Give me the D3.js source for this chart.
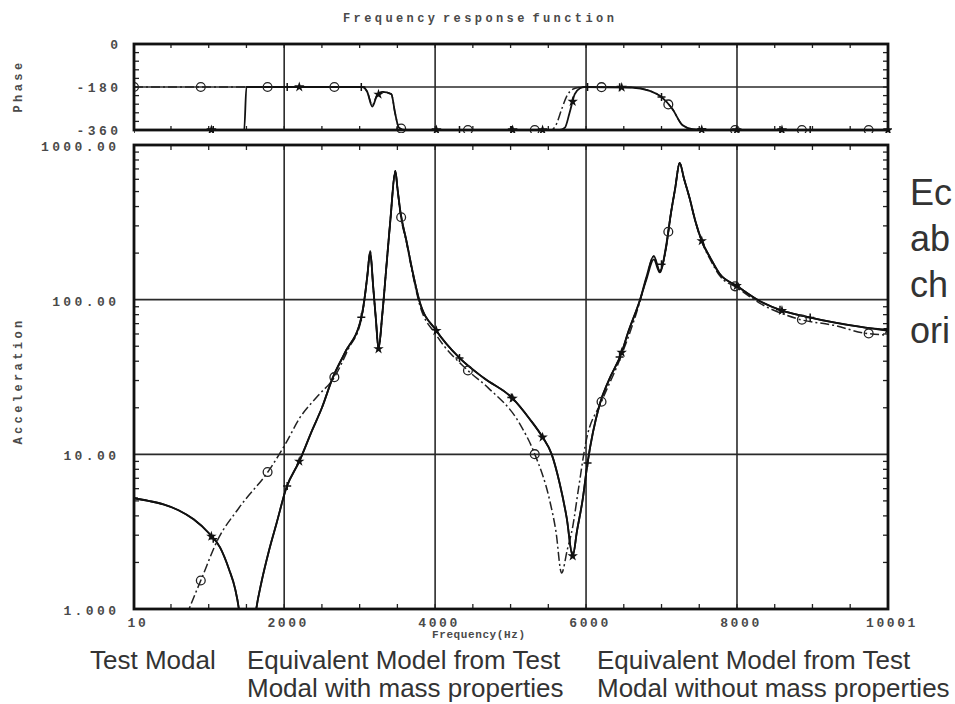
<!DOCTYPE html>
<html>
<head>
<meta charset="utf-8">
<script src="https://cdn.jsdelivr.net/npm/d3@7"></script>
<style>
  body { margin: 0; background: #fff; }
  svg { display: block; }
  .mono { font-family: "Liberation Mono", "DejaVu Sans Mono", monospace; fill: #4a4a4a; font-weight: bold; }
  .sans { font-family: "Liberation Sans", Arial, sans-serif; fill: #333; }
</style>
</head>
<body>
<svg id="chart"></svg>
<script>
// magnitude, test modal (solid, + markers) and model with mass properties (solid, * markers)
const TEST_FREQ = [10, 200, 400, 600, 800, 1000, 1150, 1270, 1350, 1400, 1450, 1500, 1560, 1630, 1700, 1800, 1900, 2030, 2200, 2370, 2500, 2640, 2800, 3020, 3060, 3100, 3140, 3180, 3215, 3250, 3300, 3355, 3410, 3473, 3500, 3540, 3620, 3700, 3792, 4017, 4323, 4650, 5027, 5250, 5424, 5545, 5650, 5743, 5823, 5880, 5955, 6020, 6180, 6300, 6472, 6550, 6710, 6800, 6897, 6977, 7060, 7120, 7180, 7240, 7300, 7370, 7450, 7533, 7650, 7770, 7996, 8300, 8596, 8900, 9300, 9700, 10001];
const TEST_ACC = [5.2, 5.0, 4.75, 4.35, 3.8, 3.1, 2.5, 1.8, 1.35, 1.0, 0.6, 0.3, 0.5, 1.0, 1.5, 2.4, 3.6, 6.1, 9.0, 14.3, 20, 31, 45, 76, 98, 140, 207, 120, 75, 48, 80, 165, 340, 680, 530, 370, 240, 153, 98, 63, 42, 31, 23, 17, 12.9, 10, 6.5, 3.9, 2.2, 3.2, 5.1, 8.8, 21, 30, 45.5, 60, 98, 140, 192, 154, 216, 350, 520, 765, 600, 457, 320, 240, 185, 147, 123, 98, 85, 78, 71, 66, 63];
const MASS_ACC = [5.2, 5.0, 4.75, 4.35, 3.8, 3.1, 2.5, 1.8, 1.35, 1.0, 0.6, 0.3, 0.5, 1.0, 1.5, 2.4, 3.6, 6.1, 9.0, 14.3, 20, 31, 45, 76, 98, 140, 200, 120, 75, 48, 80, 165, 340, 680, 530, 370, 240, 153, 98, 63, 42, 31, 23, 17, 12.9, 10, 6.5, 3.9, 2.2, 3.2, 5.1, 8.8, 21, 30, 45.5, 60, 98, 135, 182, 150, 222, 350, 520, 765, 600, 457, 320, 240, 185, 147, 123, 98, 85, 78, 71, 66, 64];

// magnitude, model without mass properties (dash-dot, circles)
const NOMASS_FREQ = [300, 600, 740, 912, 1110, 1400, 1800, 2030, 2200, 2450, 2663, 2850, 3020, 3060, 3100, 3140, 3180, 3215, 3250, 3300, 3355, 3410, 3473, 3500, 3540, 3620, 3700, 3792, 4017, 4430, 4700, 5120, 5318, 5517, 5600, 5676, 5750, 5823, 5900, 5995, 6207, 6472, 6710, 6800, 6897, 6977, 7060, 7120, 7180, 7240, 7300, 7370, 7450, 7533, 7650, 7770, 7996, 8300, 8810, 9300, 9670, 10001];
const NOMASS_ACC = [0.2, 0.65, 1.0, 1.6, 2.74, 4.5, 7.9, 12, 17, 24, 31.4, 48, 74, 96, 140, 205, 120, 75, 49, 80, 165, 340, 680, 530, 360, 235, 148, 94, 59, 35, 27, 15.8, 10.1, 5.06, 3.2, 1.71, 2.4, 3.4, 6, 11.8, 22, 44, 96, 138, 190, 152, 216, 350, 520, 765, 600, 457, 318, 238, 180, 143, 120, 95, 75, 68, 61, 59];

// phase
const PH_TEST_FREQ = [10, 1470, 1500, 3035, 3100, 3168, 3230, 3300, 3420, 3470, 3520, 3600, 5650, 5720, 5780, 5850, 5920, 5980, 6600, 6845, 7000, 7140, 7280, 7420, 7600, 10001];
const PH_TEST = [-360, -360, -180, -180, -200, -262, -215, -200, -210, -290, -350, -360, -360, -350, -290, -210, -185, -180, -182, -196, -222, -270, -340, -357, -360, -360];
const PH_NOMASS_FREQ = [10, 3035, 3100, 3168, 3230, 3300, 3420, 3470, 3520, 3600, 5540, 5600, 5680, 5750, 5820, 5900, 5980, 6600, 6845, 7000, 7140, 7280, 7420, 7600, 10001];
const PH_NOMASS = [-180, -180, -200, -255, -215, -200, -210, -290, -350, -360, -360, -340, -270, -215, -190, -182, -180, -182, -196, -222, -270, -340, -357, -360, -360];

// where the symbols sit along each curve
const MARK_TEST = [10, 1060, 2040, 3022, 4323, 5010, 6020, 6445, 7000, 8570, 8970];
const MARK_MASS = [1035, 2200, 3250, 4017, 5027, 5424, 5823, 6472, 7533, 7996, 8596, 10001];
const MARK_NOMASS = [10, 895, 1780, 2665, 3550, 4435, 5320, 6205, 7090, 7975, 8860, 9745];

const X_TICKS = [10, 2000, 4000, 6000, 8000, 10001];
const X_GRID = [2000, 4000, 6000, 8000];
const ACC_TICKS = [1, 10, 100, 1000];
const ACC_LABELS = ["1.000", "10.00", "100.00", "1000.00"];
const PH_TICKS = [0, -180, -360];
const PH_LABELS = ["0", "-180", "-360"];

const W = 955, H = 704;
const LEFT = 134, RIGHT = 888;
const PH_TOP = 44, PH_BOTTOM = 130;
const ACC_TOP = 145, ACC_BOTTOM = 609;

const svg = d3.select('#chart').attr('width', W).attr('height', H);

const x = d3.scaleLinear().domain([10, 10001]).range([LEFT, RIGHT]);
const yAcc = d3.scaleLog().domain([1, 1000]).range([ACC_BOTTOM, ACC_TOP]);
const yPh = d3.scaleLinear().domain([-360, 0]).range([PH_BOTTOM, PH_TOP]);

const defs = svg.append('defs');
defs.append('clipPath').attr('id', 'clipAcc').append('rect')
  .attr('x', LEFT).attr('y', ACC_TOP).attr('width', RIGHT - LEFT).attr('height', ACC_BOTTOM - ACC_TOP);
defs.append('clipPath').attr('id', 'clipPh').append('rect')
  .attr('x', LEFT).attr('y', PH_TOP - 3).attr('width', RIGHT - LEFT + 4).attr('height', PH_BOTTOM - PH_TOP + 6);

function zip(fs, vs) { return fs.map((f, i) => ({ f: f, v: vs[i] })); }

// linear interpolation (in log space for magnitude)
function interp(fs, vs, f, log) {
  let i = d3.bisectRight(fs, f) - 1;
  i = Math.max(0, Math.min(fs.length - 2, i));
  const t = (f - fs[i]) / (fs[i + 1] - fs[i]);
  if (log) return Math.pow(10, Math.log10(vs[i]) + t * (Math.log10(vs[i + 1]) - Math.log10(vs[i])));
  return vs[i] + t * (vs[i + 1] - vs[i]);
}

// ---- grid
const grid = svg.append('g').attr('stroke', '#2a2a2a').attr('stroke-width', 1.6);
X_GRID.forEach(g => {
  grid.append('line').attr('x1', x(g)).attr('x2', x(g)).attr('y1', ACC_TOP).attr('y2', ACC_BOTTOM);
  grid.append('line').attr('x1', x(g)).attr('x2', x(g)).attr('y1', PH_TOP).attr('y2', PH_BOTTOM);
});
[10, 100].forEach(v => grid.append('line').attr('x1', LEFT).attr('x2', RIGHT).attr('y1', yAcc(v)).attr('y2', yAcc(v)));
grid.append('line').attr('x1', LEFT).attr('x2', RIGHT).attr('y1', yPh(-180)).attr('y2', yPh(-180));

// ---- minor ticks, inward
const ticks = svg.append('g').attr('stroke', '#222').attr('stroke-width', 1.3);
d3.range(500, 10001, 500).forEach(f => {
  [[ACC_TOP, 5], [ACC_BOTTOM, -5], [PH_TOP, 4], [PH_BOTTOM, -4]].forEach(([yy, d]) => {
    ticks.append('line').attr('x1', x(f)).attr('x2', x(f)).attr('y1', yy).attr('y2', yy + d);
  });
});
[1, 10, 100].forEach(dec => d3.range(2, 10).forEach(k => {
  const yy = yAcc(dec * k);
  ticks.append('line').attr('x1', LEFT).attr('x2', LEFT + 5).attr('y1', yy).attr('y2', yy);
  ticks.append('line').attr('x1', RIGHT - 5).attr('x2', RIGHT).attr('y1', yy).attr('y2', yy);
}));
d3.range(-324, 0, 36).forEach(p => {
  ticks.append('line').attr('x1', LEFT).attr('x2', LEFT + 5).attr('y1', yPh(p)).attr('y2', yPh(p));
  ticks.append('line').attr('x1', RIGHT - 5).attr('x2', RIGHT).attr('y1', yPh(p)).attr('y2', yPh(p));
});

// ---- curves
const lineAcc = d3.line().x(d => x(d.f)).y(d => yAcc(d.v)).curve(d3.curveMonotoneX);
const linePh = d3.line().x(d => x(d.f)).y(d => yPh(d.v)).curve(d3.curveMonotoneX);

const accG = svg.append('g').attr('clip-path', 'url(#clipAcc)');
const phG = svg.append('g').attr('clip-path', 'url(#clipPh)');

accG.append('path').datum(zip(NOMASS_FREQ, NOMASS_ACC)).attr('d', lineAcc)
  .attr('fill', 'none').attr('stroke', '#222').attr('stroke-width', 1.5).attr('stroke-dasharray', '9,3,2,3');
accG.append('path').datum(zip(TEST_FREQ, MASS_ACC)).attr('d', lineAcc)
  .attr('fill', 'none').attr('stroke', '#111').attr('stroke-width', 1.8);
accG.append('path').datum(zip(TEST_FREQ, TEST_ACC)).attr('d', lineAcc)
  .attr('fill', 'none').attr('stroke', '#111').attr('stroke-width', 1.8);

phG.append('path').datum(zip(PH_NOMASS_FREQ, PH_NOMASS)).attr('d', linePh)
  .attr('fill', 'none').attr('stroke', '#222').attr('stroke-width', 1.5).attr('stroke-dasharray', '9,3,2,3');
phG.append('path').datum(zip(PH_TEST_FREQ, PH_TEST)).attr('d', linePh)
  .attr('fill', 'none').attr('stroke', '#111').attr('stroke-width', 1.8);

// ---- symbols
function plus(g, px, py) {
  g.append('path').attr('d', `M${px - 4},${py}H${px + 4}M${px},${py - 4}V${py + 4}`)
    .attr('stroke', '#111').attr('stroke-width', 1.5);
}
function star(g, px, py) {
  g.append('path').attr('d', d3.symbol(d3.symbolStar, 34)()).attr('transform', `translate(${px},${py})`)
    .attr('fill', '#111');
}
function ring(g, px, py) {
  g.append('circle').attr('cx', px).attr('cy', py).attr('r', 4.4)
    .attr('fill', 'none').attr('stroke', '#222').attr('stroke-width', 1.3);
}
MARK_TEST.forEach(f => {
  const v = interp(TEST_FREQ, TEST_ACC, f, true);
  if (v >= 1) plus(accG, x(f), yAcc(v));
  plus(phG, x(f), yPh(interp(PH_TEST_FREQ, PH_TEST, f, false)));
});
MARK_MASS.forEach(f => {
  const v = interp(TEST_FREQ, MASS_ACC, f, true);
  if (v >= 1) star(accG, x(f), yAcc(v));
  star(phG, x(f), yPh(interp(PH_TEST_FREQ, PH_TEST, f, false)));
});
MARK_NOMASS.forEach(f => {
  if (f >= NOMASS_FREQ[0]) {
    const v = interp(NOMASS_FREQ, NOMASS_ACC, f, true);
    if (v >= 1) ring(accG, x(f), yAcc(v));
  }
  ring(phG, x(f), yPh(interp(PH_NOMASS_FREQ, PH_NOMASS, f, false)));
});

// ---- frames
[[PH_TOP, PH_BOTTOM], [ACC_TOP, ACC_BOTTOM]].forEach(([t, b]) => {
  svg.append('rect').attr('x', LEFT).attr('y', t).attr('width', RIGHT - LEFT).attr('height', b - t)
    .attr('fill', 'none').attr('stroke', '#111').attr('stroke-width', 2.8);
});

// ---- labels
const LS = 3.4;
svg.append('g').selectAll('text').data(ACC_TICKS).join('text')
  .attr('class', 'mono').attr('font-size', 13).attr('letter-spacing', LS)
  .attr('text-anchor', 'end').attr('x', 116 + LS).attr('y', d => yAcc(d) + 6)
  .text((d, i) => ACC_LABELS[i]);
svg.append('g').selectAll('text').data(PH_TICKS).join('text')
  .attr('class', 'mono').attr('font-size', 13).attr('letter-spacing', LS)
  .attr('text-anchor', 'end').attr('x', 118 + LS).attr('y', d => yPh(d) + 5)
  .text((d, i) => PH_LABELS[i]);
svg.append('g').selectAll('text').data(X_TICKS).join('text')
  .attr('class', 'mono').attr('font-size', 13).attr('letter-spacing', 2.6)
  .attr('text-anchor', 'middle').attr('x', d => x(d) + 4).attr('y', 627)
  .text(d => d);

svg.append('text').attr('class', 'mono').attr('font-size', 11).attr('letter-spacing', 0.6)
  .attr('x', 432).attr('y', 638).text('Frequency(Hz)');
svg.append('text').attr('class', 'mono').attr('font-size', 12).attr('letter-spacing', 3.4)
  .attr('word-spacing', -6).attr('x', 343).attr('y', 22).text('Frequency response function');
svg.append('text').attr('class', 'mono').attr('font-size', 12).attr('letter-spacing', 3.4)
  .attr('text-anchor', 'middle').attr('transform', 'translate(22,86) rotate(-90)').text('Phase');
svg.append('text').attr('class', 'mono').attr('font-size', 12).attr('letter-spacing', 3.4)
  .attr('text-anchor', 'middle').attr('transform', 'translate(22,381) rotate(-90)').text('Acceleration');

// ---- captions
const cap = svg.append('g').attr('class', 'sans').attr('font-size', 26);
cap.append('text').attr('x', 90).attr('y', 669).text('Test Modal');
cap.append('text').attr('x', 247).attr('y', 669).text('Equivalent Model from Test');
cap.append('text').attr('x', 247).attr('y', 697).text('Modal with mass properties');
cap.append('text').attr('x', 597).attr('y', 669).text('Equivalent Model from Test');
cap.append('text').attr('x', 597).attr('y', 697).text('Modal without mass properties');

const side = svg.append('g').attr('class', 'sans').attr('font-size', 36);
['Ec', 'ab', 'ch', 'ori'].forEach((s, i) => side.append('text').attr('x', 910).attr('y', 205 + i * 46).text(s));
</script>
</body>
</html>
